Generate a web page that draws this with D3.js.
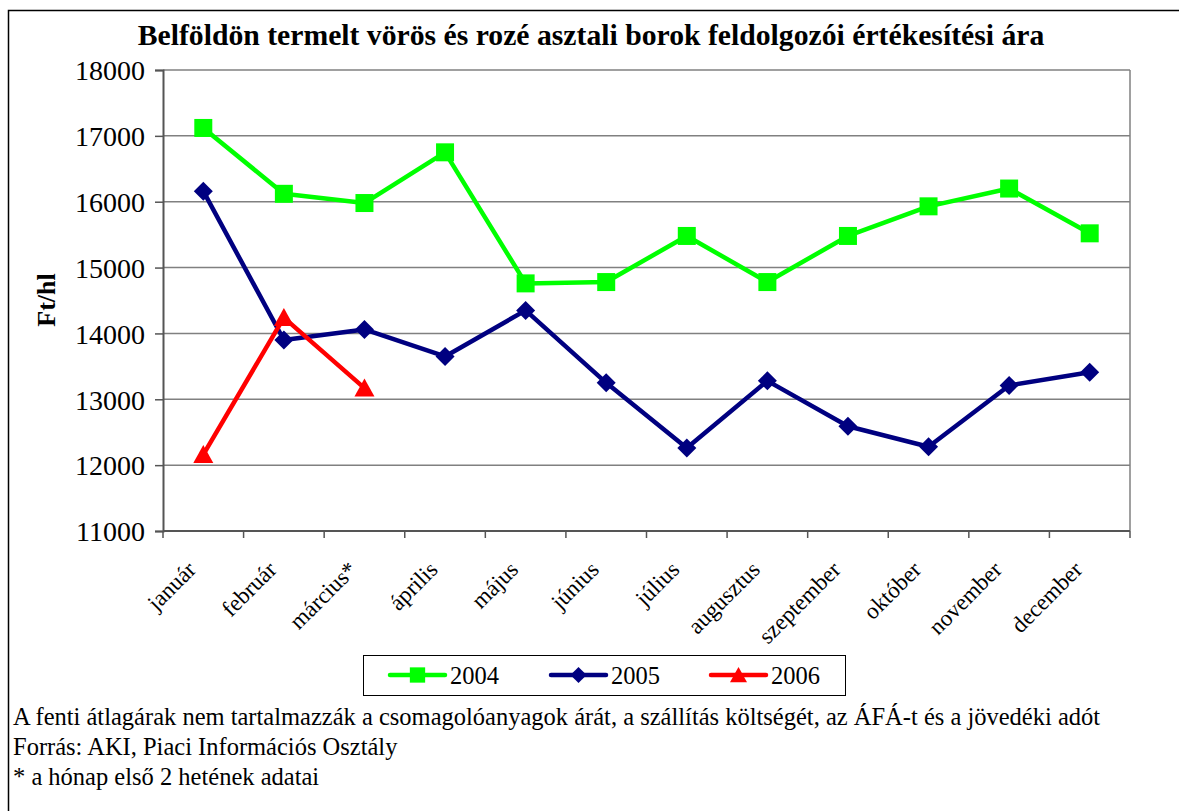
<!DOCTYPE html>
<html>
<head>
<meta charset="utf-8">
<script src="https://cdn.jsdelivr.net/npm/d3@7"></script>
<style>
  body { margin: 0; background: #fff; }
  svg text { font-family: "Liberation Serif", "Times New Roman", serif; fill: #000; }
</style>
</head>
<body>
<svg id="chart" width="1179" height="811"></svg>
<script>
// data
const months = ['január', 'február', 'március*', 'április', 'május', 'június',
  'július', 'augusztus', 'szeptember', 'október', 'november', 'december'];
const values2004 = [17120, 16120, 15980, 16750, 14760, 14780, 15480, 14780, 15480, 15930, 16200, 15520];
const values2005 = [16160, 13900, 14060, 13650, 14350, 13250, 12260, 13280, 12590, 12280, 13210, 13410];
const values2006 = [12160, 14240, 13170];
const yTicks = [11000, 12000, 13000, 14000, 15000, 16000, 17000, 18000];
const footnotes = [
  'A fenti átlagárak nem tartalmazzák a csomagolóanyagok árát, a szállítás költségét, az ÁFÁ-t és a jövedéki adót',
  'Forrás: AKI, Piaci Információs Osztály',
  '* a hónap első 2 hetének adatai'
];

const series = [
  { name: '2004', values: values2004, color: '#00ff00', marker: 'square' },
  { name: '2005', values: values2005, color: '#000080', marker: 'diamond' },
  { name: '2006', values: values2006, color: '#ff0000', marker: 'triangle' }
];

const serif = '"Liberation Serif", "Times New Roman", serif';
const svg = d3.select('#chart');

// outer frame (only left and top edges are inside the picture)
svg.append('rect')
  .attr('x', 8.5).attr('y', 10.5)
  .attr('width', 1200).attr('height', 820)
  .attr('fill', 'none').attr('stroke', '#000').attr('stroke-width', 1.5);

const plot = { left: 163, right: 1130, top: 70, bottom: 531 };

const x = d3.scaleBand()
  .domain(months)
  .range([plot.left, plot.right]);

const y = d3.scaleLinear()
  .domain([11000, 18000])
  .range([plot.bottom, plot.top]);

// title
svg.append('text')
  .attr('x', 591).attr('y', 45)
  .attr('text-anchor', 'middle')
  .style('font-family', serif)
  .style('font-size', '29.7px').style('font-weight', 'bold')
  .text('Belföldön termelt vörös és rozé asztali borok feldolgozói értékesítési ára');

// gridlines
svg.append('g')
  .selectAll('line')
  .data(yTicks)
  .join('line')
  .attr('x1', plot.left).attr('x2', plot.right)
  .attr('y1', d => y(d)).attr('y2', d => y(d))
  .attr('stroke', '#808080').attr('stroke-width', 1.5);

// right border of plot area
svg.append('line')
  .attr('x1', plot.right).attr('x2', plot.right)
  .attr('y1', plot.top).attr('y2', plot.bottom)
  .attr('stroke', '#808080').attr('stroke-width', 1.5);

// y axis
const yAxis = d3.axisLeft(y)
  .tickValues(yTicks)
  .tickSize(8)
  .tickPadding(10)
  .tickFormat(d3.format('d'));

const gY = svg.append('g')
  .attr('transform', `translate(${plot.left},0)`)
  .call(yAxis)
  .attr('font-family', null)
  .attr('font-size', null);
gY.select('.domain').attr('stroke', '#555').attr('stroke-width', 2);
gY.selectAll('.tick line').attr('stroke', '#555').attr('stroke-width', 1.5);
gY.selectAll('.tick text')
  .style('font-size', '28px')
  .style('font-family', serif)
  .attr('dy', '0.35em');

// x axis: ticks sit on category boundaries
const gX = svg.append('g')
  .attr('transform', `translate(0,${plot.bottom})`);
gX.append('line')
  .attr('x1', plot.left).attr('x2', plot.right)
  .attr('stroke', '#555').attr('stroke-width', 2);
gX.selectAll('line.tick')
  .data(months.concat(['__end']))
  .join('line')
  .attr('class', 'tick')
  .attr('x1', d => d === '__end' ? plot.right : x(d))
  .attr('x2', d => d === '__end' ? plot.right : x(d))
  .attr('y1', 0).attr('y2', 7)
  .attr('stroke', '#555').attr('stroke-width', 1.5);
gX.selectAll('text')
  .data(months)
  .join('text')
  .attr('text-anchor', 'end')
  .attr('transform', d => `translate(${x(d) + x.bandwidth() / 2 - 6},${40}) rotate(-45)`)
  .style('font-family', serif)
  .style('font-size', '23px')
  .text(d => d);

// y axis title
svg.append('text')
  .attr('transform', 'translate(55,300) rotate(-90)')
  .attr('text-anchor', 'middle')
  .style('font-family', serif)
  .style('font-size', '26px').style('font-weight', 'bold')
  .text('Ft/hl');

// marker shapes
function markerPath(type) {
  if (type === 'square') return 'M-9,-9H9V9H-9Z';
  if (type === 'diamond') return 'M0,-9.5L9.5,0L0,9.5L-9.5,0Z';
  return 'M0,-9.5L10,8.5H-10Z';
}

const line = d3.line()
  .x((d, i) => x(months[i]) + x.bandwidth() / 2)
  .y(d => y(d));

const gS = svg.append('g');
series.forEach(s => {
  gS.append('path')
    .datum(s.values)
    .attr('d', line)
    .attr('fill', 'none')
    .attr('stroke', s.color)
    .attr('stroke-width', 4.5)
    .attr('stroke-linejoin', 'round');
  gS.append('g')
    .selectAll('path')
    .data(s.values)
    .join('path')
    .attr('transform', (d, i) => `translate(${x(months[i]) + x.bandwidth() / 2},${y(d)})`)
    .attr('d', markerPath(s.marker))
    .attr('fill', s.color);
});

// legend
const legend = svg.append('g');
legend.append('rect')
  .attr('x', 363.5).attr('y', 655.5)
  .attr('width', 482).attr('height', 40)
  .attr('fill', '#fff').attr('stroke', '#000').attr('stroke-width', 1);
const legendX = [390, 551, 711];
series.forEach((s, i) => {
  const lx = legendX[i];
  legend.append('line')
    .attr('x1', lx).attr('x2', lx + 55)
    .attr('y1', 675).attr('y2', 675)
    .attr('stroke', s.color).attr('stroke-width', 4.5)
    .attr('stroke-linecap', 'round');
  legend.append('path')
    .attr('transform', `translate(${lx + 27.5},675) scale(0.85)`)
    .attr('d', markerPath(s.marker))
    .attr('fill', s.color);
  legend.append('text')
    .attr('x', lx + 60).attr('y', 684)
    .style('font-family', serif)
    .style('font-size', '24.5px')
    .text(s.name);
});

// footnotes
svg.append('g')
  .selectAll('text')
  .data(footnotes)
  .join('text')
  .attr('x', 13)
  .attr('y', (d, i) => 725 + i * 30)
  .style('font-family', serif)
  .style('font-size', '24.5px')
  .text(d => d);
</script>
</body>
</html>
